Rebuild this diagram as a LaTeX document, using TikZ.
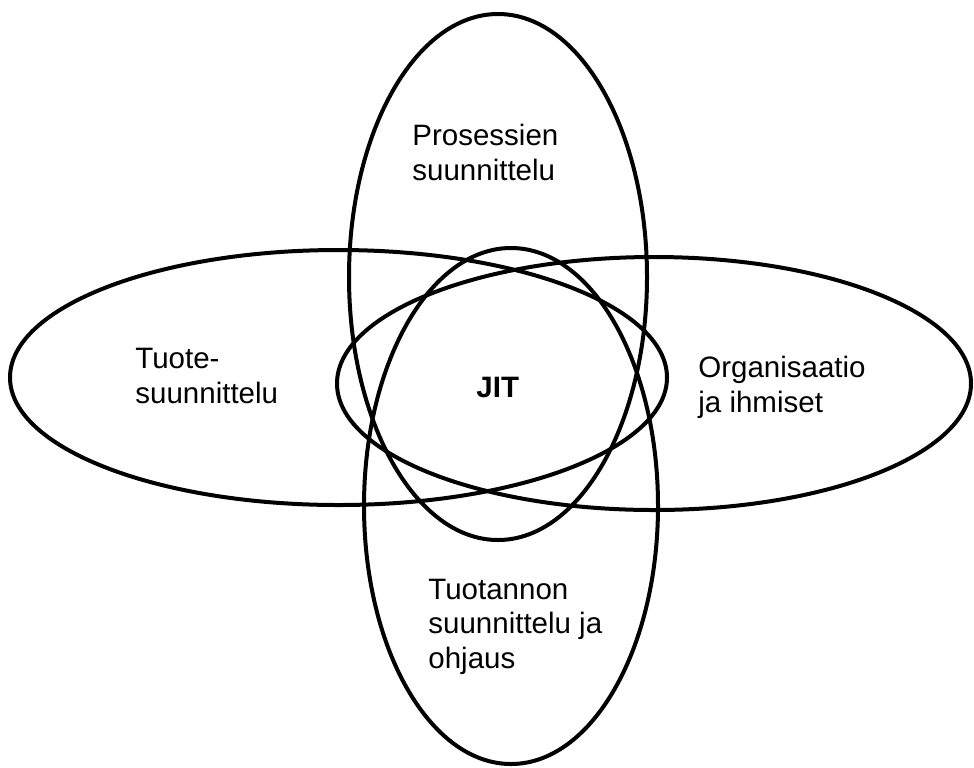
\documentclass[tikz,border=0pt]{standalone}
\usepackage{fontspec}
\setmainfont{Liberation Sans}
\begin{document}
\begin{tikzpicture}[x=0.5pt,y=-0.5pt,
  area/.style={draw=black,line width=2pt},
  label/.style={anchor=base west,inner sep=0pt,align=left,
    font=\fontsize{14.75pt}{17.25pt}\selectfont}]
\useasboundingbox (0,0) rectangle (974,767);
% four overlapping fields
\draw[area] (498,277) ellipse [x radius=149,y radius=263];
\draw[area] (511,506) ellipse [x radius=147,y radius=258];
\draw[area] (338.5,377.5) ellipse [x radius=328.5,y radius=127.5];
\draw[area] (654,383.5) ellipse [x radius=317,y radius=126.5];
% labels (placed by the baseline of their last line)
\node[label] (proc) at (412,180) {Prosessien\\suunnittelu};
\node[label] (prod) at (135,403) {Tuote-\\suunnittelu};
\node[label] (org) at (698,412) {Organisaatio\\ja ihmiset};
\node[label] (plan) at (428,668) {Tuotannon\\suunnittelu ja\\ohjaus};
\node[label,font=\fontsize{14.75pt}{17.25pt}\selectfont\bfseries] (jit) at (476,397) {JIT};
\end{tikzpicture}
\end{document}
